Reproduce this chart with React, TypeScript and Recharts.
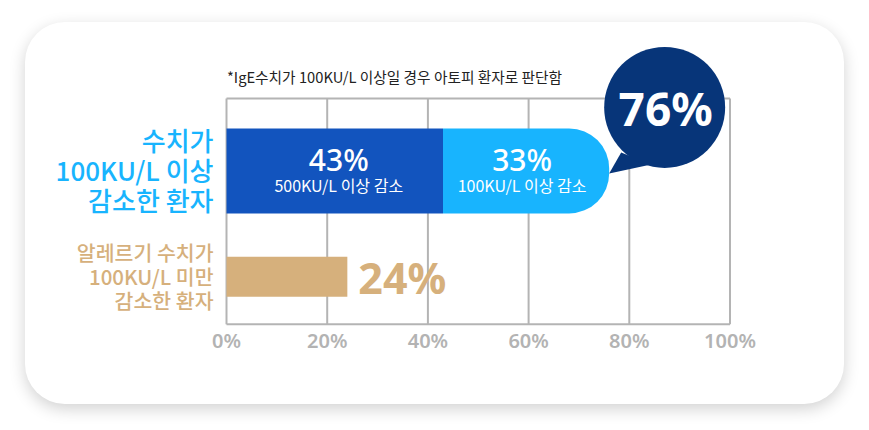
import React from 'react';
import { BarChart, Bar, XAxis, YAxis, CartesianGrid, LabelList } from 'recharts';

const categories = ['수치가 100KU/L 이상 감소한 환자', '알레르기 수치가 100KU/L 미만 감소한 환자'];
const categoryLines = [
  ['수치가', '100KU/L 이상', '감소한 환자'],
  ['알레르기 수치가', '100KU/L 미만', '감소한 환자'],
];
const over500Values = [43, null];
const over100Values = [33, null];
const under100Values = [null, 24];
const segmentCaptions = ['500KU/L 이상 감소', '100KU/L 이상 감소'];
const xTicks = [0, 20, 40, 60, 80, 100];
const noteText = '*IgE수치가 100KU/L 이상일 경우 아토피 환자로 판단함';

const data = categories.map((cat, i) => ({
  cat,
  over500: over500Values[i],
  over100: over100Values[i],
  under100: under100Values[i],
  total:
    over500Values[i] != null && over100Values[i] != null
      ? (over500Values[i] as number) + (over100Values[i] as number)
      : null,
}));

const FONT = '"Noto Sans CJK KR", "Noto Sans", sans-serif';
const FONT_NUM = '"Noto Sans", "Noto Sans CJK KR", sans-serif';
const C_DARK = '#1254be';
const C_LIGHT = '#18b4fe';
const C_TAN = '#d6b07c';
const C_NAVY = '#073579';
const C_GRID = '#b4b4b4';

const makeYTick = (rowIndex: number, color: string, fontSize: number, lineGap: number) => (props: any) => {
  const { x, y, payload } = props;
  if (!payload || payload.value !== categories[rowIndex]) return <g />;
  const lines = categoryLines[rowIndex];
  const base = y + fontSize * 0.38 - lineGap;
  return (
    <text
      x={x}
      y={base}
      textAnchor="end"
      fill={color}
      fontFamily={FONT}
      fontSize={fontSize}
      fontWeight={500}
    >
      {lines.map((t, k) => (
        <tspan key={k} x={x} dy={k === 0 ? 0 : lineGap}>
          {t}
        </tspan>
      ))}
    </text>
  );
};

const XTick = (props: any) => {
  const { x, y, payload } = props;
  return (
    <text
      x={x}
      y={y + 24}
      textAnchor="middle"
      fill="#b3b3b3"
      fontFamily={FONT_NUM}
      fontSize={20}
      fontWeight={600}
    >
      {payload.value}%
    </text>
  );
};

const makeSegmentLabel = (captionIndex: number) => (props: any) => {
  const { x, y, width, height, value } = props;
  if (value == null) return null;
  const cx = x + width / 2 + (captionIndex === 0 ? 4 : -4);
  const cy = y + height / 2;
  return (
    <text x={cx} y={cy} textAnchor="middle" fill="#fff">
      <tspan x={cx} fontFamily={FONT_NUM} fontSize={30} fontWeight={500}>
        {value}%
      </tspan>
      <tspan x={cx} dy={21.5} fontFamily={FONT} fontSize={16} fontWeight={400}>
        {segmentCaptions[captionIndex]}
      </tspan>
    </text>
  );
};

const BubbleLabel = (props: any) => {
  const { x, y, width, index } = props;
  const total = data[index]?.total;
  if (total == null) return null;
  const ex = x + width;
  const bx = ex + 55.5;
  const by = y - 21;
  return (
    <g>
      <polygon points={`${ex},${y + 45} ${ex + 12},${y + 24} ${ex + 42},${y + 36}`} fill={C_NAVY} />
      <circle cx={bx} cy={by} r={60.5} fill={C_NAVY} />
      <text x={bx + 1} y={by + 19} textAnchor="middle" fill="#fff" fontFamily={FONT_NUM} fontSize={46} fontWeight={700}>
        {total}%
      </text>
    </g>
  );
};

const TanLabel = (props: any) => {
  const { x, y, width, height, value } = props;
  if (value == null) return null;
  return (
    <text
      x={x + width + 11}
      y={y + height / 2 + 17}
      textAnchor="start"
      fill={C_TAN}
      fontFamily={FONT_NUM}
      fontSize={43}
      fontWeight={700}
    >
      {value}%
    </text>
  );
};

export default function App() {
  return (
    <div style={{ position: 'absolute', left: 0, top: 0, width: 869, height: 430, background: '#ffffff', overflow: 'hidden' }}>
      <div
        style={{
          position: 'absolute',
          left: 25,
          top: 22,
          width: 819,
          height: 382,
          borderRadius: 40,
          background: '#ffffff',
          boxShadow: '0 5px 16px rgba(0,0,0,0.18)',
        }}
      />
      <div
        style={{
          position: 'absolute',
          left: 227,
          top: 67,
          fontFamily: FONT,
          fontSize: 14.7,
          color: '#222',
          lineHeight: '20px',
          whiteSpace: 'nowrap',
        }}
      >
        {noteText}
      </div>
      <div style={{ position: 'absolute', left: 0, top: 0 }}>
        <BarChart
          width={869}
          height={430}
          data={data}
          layout="vertical"
          margin={{ top: 97.5, right: 139, left: 224.5, bottom: 75.7 }}
        >
          <CartesianGrid horizontal={false} vertical stroke={C_GRID} strokeWidth={2} />
          <XAxis
            type="number"
            domain={[0, 100]}
            ticks={xTicks}
            interval={0}
            height={30}
            axisLine={{ stroke: C_GRID, strokeWidth: 2 }}
            tickLine={false}
            tickSize={0}
            tickMargin={0}
            tick={<XTick />}
          />
          <XAxis
            xAxisId="top"
            orientation="top"
            type="number"
            domain={[0, 100]}
            ticks={xTicks}
            height={1}
            axisLine={{ stroke: C_GRID, strokeWidth: 2 }}
            tickLine={false}
            tick={false}
          />
          <YAxis
            yAxisId="a"
            type="category"
            dataKey="cat"
            width={1}
            padding={{ top: 21.9, bottom: 0 }}
            axisLine={false}
            tickLine={false}
            tickSize={0}
            tickMargin={13}
            interval={0}
            tick={makeYTick(0, C_LIGHT, 26, 30)}
          />
          <YAxis
            yAxisId="b"
            type="category"
            dataKey="cat"
            width={1}
            padding={{ top: 36.6, bottom: 0 }}
            axisLine={false}
            tickLine={false}
            tickSize={0}
            tickMargin={12}
            interval={0}
            tick={makeYTick(1, C_TAN, 20.5, 24)}
          />
          <Bar yAxisId="a" dataKey="over500" stackId="s" fill={C_DARK} barSize={85} isAnimationActive={false}>
            <LabelList dataKey="over500" content={makeSegmentLabel(0)} />
          </Bar>
          <Bar
            yAxisId="a"
            dataKey="over100"
            stackId="s"
            fill={C_LIGHT}
            barSize={85}
            radius={[0, 40, 40, 0]}
            isAnimationActive={false}
          >
            <LabelList dataKey="over100" content={makeSegmentLabel(1)} />
            <LabelList dataKey="over100" content={BubbleLabel} />
          </Bar>
          <Bar yAxisId="b" dataKey="under100" fill={C_TAN} barSize={40} isAnimationActive={false}>
            <LabelList dataKey="under100" content={TanLabel} />
          </Bar>
        </BarChart>
      </div>
    </div>
  );
}
